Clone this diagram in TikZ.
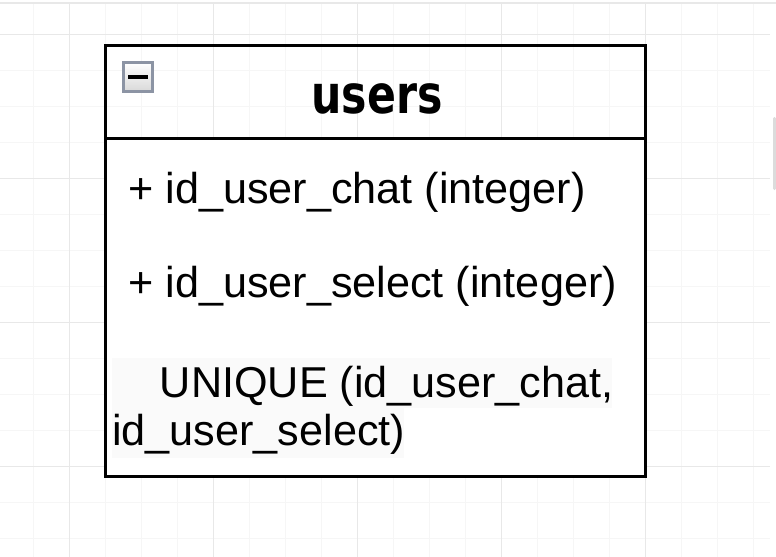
\documentclass[tikz,border=0pt]{standalone}
\usepackage{fontspec}
\setmainfont{Liberation Sans}
\newfontfamily\headfont{DejaVu Sans}
\usetikzlibrary{positioning}
\definecolor{minorgrid}{HTML}{F6F6F6}
\definecolor{majorgrid}{HTML}{E8E8E8}
\definecolor{rowshade}{HTML}{FAFAFA}
\definecolor{iconframe}{HTML}{8C94A4}
\definecolor{thumb}{HTML}{DCDCDC}

\begin{document}
\begin{tikzpicture}[x=0.75pt, y=-0.75pt,
    field/.style={anchor=base west, inner sep=0pt, font=\fontsize{32.4}{38}\selectfont},
    frame/.style={line width=2.25pt, line join=miter}]
  \useasboundingbox (0,0) rectangle (776,557);

  % Grid:
  \foreach \x in {33,69,...,770} \draw[minorgrid, line width=0.75pt] (\x,3) -- (\x,557);
  \foreach \y in {34,70,...,557} \draw[minorgrid, line width=0.75pt] (0,\y) -- (770,\y);
  \foreach \x in {69,213,...,770} \draw[majorgrid, line width=0.75pt] (\x,3) -- (\x,557);
  \foreach \y in {34,178,...,557} \draw[majorgrid, line width=0.75pt] (0,\y) -- (770,\y);
  \draw[majorgrid, line width=1pt] (0,3) -- (776,3);
  \fill[thumb, rounded corners=1pt] (773,117) rectangle (776,190);

  % Table:
  \fill[white] (105,138.5) rectangle (645.5,476.5);
  \fill[rowshade] (112,358) rectangle (612,408);
  \fill[rowshade] (112,408) rectangle (404,458);
  \draw[frame] (105.5,45.5) rectangle (645.5,476.5);
  \draw[frame] (105.5,138.5) -- (645.5,138.5);

  % Header:
  \node[draw=iconframe, line width=2.25pt, minimum size=21.75pt, inner sep=0pt,
        top color=white, bottom color=black!15] (icon) at (138,77) {};
  \draw[line width=3pt] ([xshift=-7.2pt]icon.center) -- ([xshift=7.2pt]icon.center);
  \node[anchor=base, inner sep=0pt] (title) at (377,113)
    {\headfont\bfseries\fontsize{32}{38}\selectfont\scalebox{1}[1.25]{users}};

  % Fields:
  \node[field] (chat) at (128,203) {+ id\_user\_chat (integer)};
  \node[field] (select) at (128,297) {+ id\_user\_select (integer)};
  \node[field] (unique) at (112,397) {\hspace*{35.7pt}UNIQUE (id\_user\_chat,};
  \node[field] (uniquetail) at (112,445) {id\_user\_select)};
\end{tikzpicture}
\end{document}
